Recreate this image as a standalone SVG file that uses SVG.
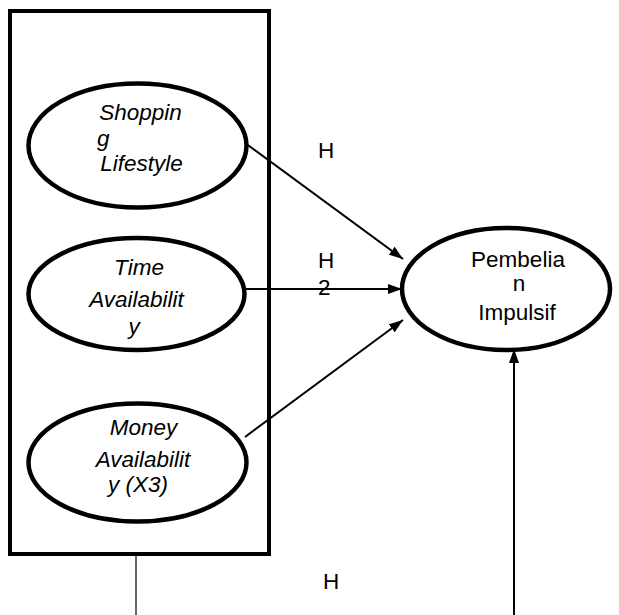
<svg xmlns="http://www.w3.org/2000/svg" width="619" height="615" viewBox="0 0 619 615">
<style>
.node{fill:#fff;stroke:#000;stroke-width:4.5}
.lbl{font-family:"Liberation Sans",Arial,sans-serif;font-size:22.5px;fill:#000}
.it{font-style:italic}
.conn{stroke:#000;stroke-width:2;fill:none}
</style>
<defs>
<marker id="arr" viewBox="0 0 14 10" refX="14" refY="5" markerWidth="14" markerHeight="10" markerUnits="userSpaceOnUse" orient="auto">
<path d="M0,0 L14,5 L0,10 Z" fill="#000"/>
</marker>
</defs>
<rect id="group-box" x="10" y="11" width="259" height="543" fill="#fff" stroke="#000" stroke-width="4"/>
<g id="connectors">
<line class="conn" x1="245" y1="143" x2="403" y2="259" marker-end="url(#arr)"/>
<line class="conn" x1="245" y1="289" x2="402" y2="289" marker-end="url(#arr)"/>
<line class="conn" x1="245" y1="437" x2="403" y2="320" marker-end="url(#arr)"/>
<line class="conn" x1="514" y1="615" x2="514" y2="349" marker-end="url(#arr)"/>
<line x1="136" y1="556" x2="136" y2="615" stroke="#333" stroke-width="1.5"/>
<text class="lbl" x="318" y="158">H</text>
<text class="lbl" x="318" y="268">H</text>
<text class="lbl" x="318" y="295">2</text>
<text class="lbl" x="323" y="589">H</text>
</g>
<g id="shopping-lifestyle">
<ellipse class="node" cx="137.5" cy="145.5" rx="109" ry="62"/>
<text class="lbl it" x="140.5" y="120" text-anchor="middle">Shoppin</text>
<text class="lbl it" x="97" y="146">g</text>
<text class="lbl it" x="141.5" y="171" text-anchor="middle">Lifestyle</text>
</g>
<g id="time-availability">
<ellipse class="node" cx="136.5" cy="294" rx="108" ry="56"/>
<text class="lbl it" x="139" y="275" text-anchor="middle">Time</text>
<text class="lbl it" x="136.5" y="307" text-anchor="middle">Availabilit</text>
<text class="lbl it" x="134" y="334" text-anchor="middle">y</text>
</g>
<g id="money-availability">
<ellipse class="node" cx="137.5" cy="462.5" rx="109" ry="59"/>
<text class="lbl it" x="143.5" y="435" text-anchor="middle">Money</text>
<text class="lbl it" x="143" y="467" text-anchor="middle">Availabilit</text>
<text class="lbl it" x="138" y="492" text-anchor="middle">y (X3)</text>
</g>
<g id="pembelian-impulsif">
<ellipse class="node" cx="506" cy="289" rx="104" ry="61"/>
<text class="lbl" x="518" y="267" text-anchor="middle">Pembelia</text>
<text class="lbl" x="519" y="291" text-anchor="middle">n</text>
<text class="lbl" x="517" y="320" text-anchor="middle">Impulsif</text>
</g>
</svg>
